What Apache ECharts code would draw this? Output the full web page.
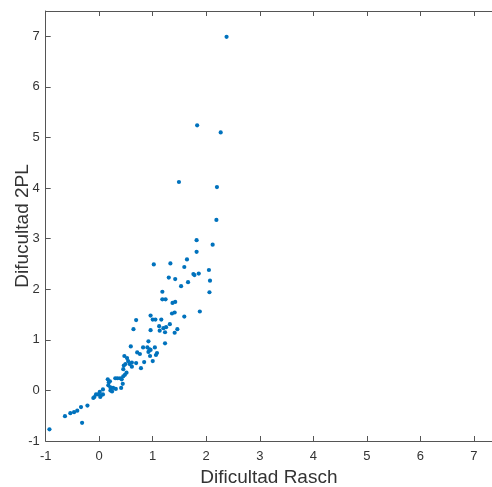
<!DOCTYPE html>
<html>
<head>
<meta charset="utf-8">
<script src="https://cdn.jsdelivr.net/npm/echarts@6/dist/echarts.min.js"></script>
<style>
  html, body { margin: 0; padding: 0; background: #fff; }
  #chart { width: 492px; height: 487px; }
</style>
</head>
<body>
<div id="chart"></div>
<script>
// Item difficulty: Rasch estimate vs 2PL estimate
const difRasch = [
  2.38, 1.83, 2.27, 1.49, 2.20, 2.19, 1.82, 2.12, 1.82, 1.64,
  1.33, 1.02, 1.59, 2.05, 1.30, 1.42, 1.76, 1.78, 1.86, 2.07,
  1.53, 1.66, 2.06, 1.18, 1.18, 1.24, 1.37, 1.42, 1.36, 1.41,
  1.88, 1.59, 1.16, 0.96, 0.69, 1.00, 1.05, 1.32, 1.12, 1.20,
  1.25, 1.46, 1.13, 0.64, 0.96, 1.23, 1.41, 0.92, 1.23, 0.59,
  0.82, 0.90, 0.94, 1.04, 0.71, 0.76, 0.92, 0.96, 1.08, 1.06,
  0.95, 0.47, 0.52, 0.84, 1.00, 0.54, 0.49, 0.46, 0.57, 0.61,
  0.69, 0.61, 0.78, 0.45, 0.51, 0.48, 0.45, 0.30, 0.34, 0.39,
  0.42, 0.16, 0.18, 0.20, 0.44, 0.17, 0.21, 0.26, 0.31, 0.41,
  0.24, 0.21, 0.07, 0.01, -0.06, -0.02, 0.03, 0.07, 0.02, -0.11,
  -0.09, -0.22, -0.34, -0.41, -0.47, -0.54, -0.64, -0.32, -0.93
];
const dif2PL = [
  6.99, 5.24, 5.10, 4.12, 4.02, 3.37, 2.97, 2.88, 2.74, 2.59,
  2.51, 2.49, 2.44, 2.38, 2.23, 2.20, 2.30, 2.28, 2.31, 2.17,
  2.06, 2.14, 1.94, 1.95, 1.80, 1.80, 1.73, 1.75, 1.52, 1.54,
  1.56, 1.46, 1.40, 1.48, 1.39, 1.40, 1.40, 1.31, 1.27, 1.23,
  1.25, 1.21, 1.18, 1.21, 1.19, 1.15, 1.14, 0.97, 0.93, 0.87,
  0.85, 0.85, 0.81, 0.85, 0.75, 0.72, 0.76, 0.80, 0.74, 0.70,
  0.68, 0.68, 0.64, 0.56, 0.58, 0.58, 0.52, 0.49, 0.52, 0.55,
  0.54, 0.47, 0.44, 0.42, 0.35, 0.31, 0.28, 0.24, 0.24, 0.24,
  0.22, 0.22, 0.16, 0.18, 0.13, 0.10, 0.06, 0.05, 0.03, 0.05,
  -0.02, 0.00, 0.02, -0.03, -0.08, -0.08, -0.10, -0.08, -0.13, -0.15,
  -0.13, -0.30, -0.33, -0.40, -0.43, -0.45, -0.51, -0.64, -0.77
];

const xRange = [-1, 7.34];
const yRange = [-1, 7.5];
const xTitle = 'Dificultad Rasch';
const yTitle = 'Difucultad 2PL';

const points = difRasch.map((x, i) => [x, dif2PL[i]]);

const lineColor = '#555555';
const textColor = '#333333';
const font = '"Liberation Sans", Arial, sans-serif';
const intOnly = v => (Math.abs(v - Math.round(v)) < 1e-9 ? String(Math.round(v)) : '');

const chart = echarts.init(document.getElementById('chart'), null, { renderer: 'canvas' });
chart.setOption({
  animation: false,
  backgroundColor: '#ffffff',
  grid: {
    left: 45.7, right: 0, top: 11, bottom: 46,
    containLabel: false, outerBoundsMode: 'none'
  },
  xAxis: [
    {
      type: 'value', position: 'bottom',
      min: xRange[0], max: xRange[1], interval: 1,
      name: xTitle, nameLocation: 'middle', nameGap: 27, nameMoveOverlap: false,
      nameTextStyle: { fontFamily: font, fontSize: 19, color: textColor },
      axisLine: { show: true, onZero: false, lineStyle: { color: lineColor, width: 1 } },
      axisTick: { show: true, inside: true, length: 5, lineStyle: { color: lineColor } },
      axisLabel: { fontFamily: font, fontSize: 13, color: textColor, margin: 8.5, formatter: intOnly },
      splitLine: { show: false }
    },
    {
      type: 'value', position: 'top',
      min: xRange[0], max: xRange[1], interval: 1,
      axisLine: { show: true, onZero: false, lineStyle: { color: lineColor, width: 1 } },
      axisTick: { show: true, inside: true, length: 5, lineStyle: { color: lineColor } },
      axisLabel: { show: false },
      splitLine: { show: false }
    }
  ],
  yAxis: [
    {
      type: 'value', position: 'left',
      min: yRange[0], max: yRange[1], interval: 1,
      name: yTitle, nameLocation: 'middle', nameGap: 13, nameMoveOverlap: false,
      nameTextStyle: { fontFamily: font, fontSize: 19, color: textColor },
      axisLine: { show: true, onZero: false, lineStyle: { color: lineColor, width: 1 } },
      axisTick: { show: true, inside: true, length: 5, lineStyle: { color: lineColor } },
      axisLabel: { fontFamily: font, fontSize: 13, color: textColor, margin: 6, formatter: intOnly },
      splitLine: { show: false }
    }
  ],
  series: [
    {
      type: 'scatter',
      xAxisIndex: 0, yAxisIndex: 0,
      data: points,
      symbol: 'circle',
      symbolSize: 4.2,
      itemStyle: { color: '#0072BD', opacity: 1 },
      silent: true
    }
  ]
});
</script>
</body>
</html>
